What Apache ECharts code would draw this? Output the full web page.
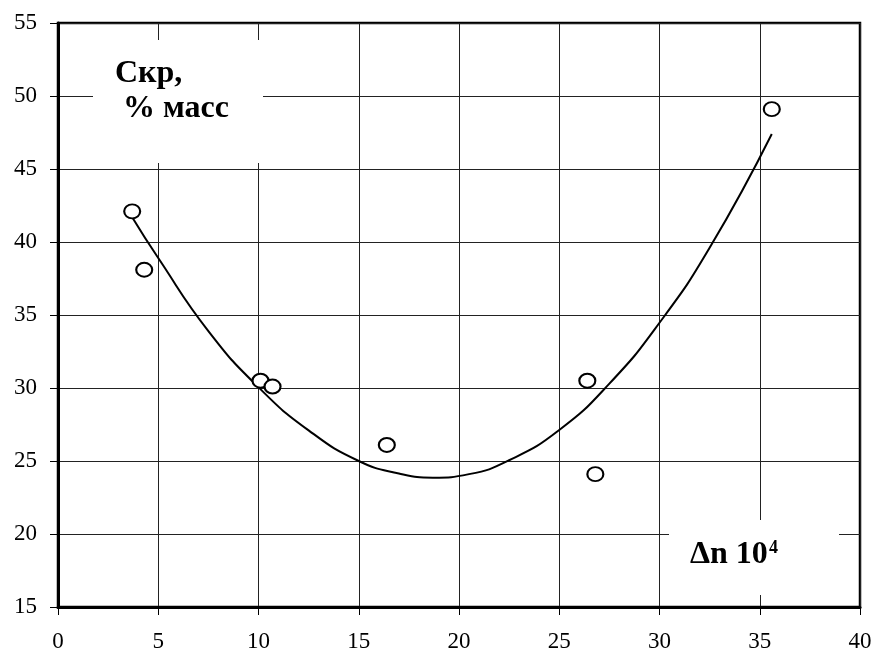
<!DOCTYPE html>
<html>
<head>
<meta charset="utf-8">
<script src="https://cdn.jsdelivr.net/npm/echarts@6/dist/echarts.min.js"></script>
<style>
html,body{margin:0;padding:0;background:#fff;}
#chart{width:873px;height:650px;}
</style>
</head>
<body>
<div id="chart"></div>
<script>
// Measured data points (Δn·10^4, Скр % масс)
const pointX = [3.7, 4.3, 10.1, 10.7, 16.4, 26.4, 26.8, 35.6];
const pointY = [42.1, 38.1, 30.5, 30.1, 26.1, 30.5, 24.1, 49.1];

// Trend curve, values
const curveX = [3.7, 5, 7.5, 10, 12.5, 15, 17, 18.7, 20.5, 22.5, 25, 27.5, 30, 32.5, 35.6];
const curveY = [41.7, 38.9, 33.9, 30.05, 27.1, 25.0, 24.15, 23.86, 24.1, 25.05, 27.12, 30.3, 34.47, 39.6, 47.4];

// Axis ranges
const xRange = [0, 40, 5];
const yRange = [15, 55, 5];

// Annotation texts
const yTitleLine1 = 'Скр,';
const yTitleLine2 = '% масс';
const xTitleMain = 'Δn 10';
const xTitleSup = '4';

const chart = echarts.init(document.getElementById('chart'));
const serif = '"Liberation Serif", "Times New Roman", serif';

chart.setOption({
  animation: false,
  backgroundColor: '#fff',
  grid: {
    left: 58, right: 13, top: 23, bottom: 43,
    containLabel: false, outerBoundsMode: 'none',
    show: true, borderColor: '#000', borderWidth: 2.5, backgroundColor: 'transparent'
  },
  xAxis: {
    type: 'value', min: xRange[0], max: xRange[1], interval: xRange[2],
    axisLine: { show: true, onZero: false, lineStyle: { color: '#000', width: 3 } },
    axisTick: { show: true, inside: false, length: 8, lineStyle: { color: '#000', width: 1 } },
    axisLabel: { color: '#000', fontFamily: serif, fontSize: 23, margin: 23 },
    splitLine: { show: true, lineStyle: { color: '#222', width: 1 } }
  },
  yAxis: {
    type: 'value', min: yRange[0], max: yRange[1], interval: yRange[2],
    axisLine: { show: true, onZero: false, lineStyle: { color: '#000', width: 3 } },
    axisTick: { show: true, inside: false, length: 8, lineStyle: { color: '#000', width: 1 } },
    axisLabel: { color: '#000', fontFamily: serif, fontSize: 23, margin: 21 },
    splitLine: { show: true, lineStyle: { color: '#222', width: 1 } }
  },
  graphic: [
    { type: 'rect', left: 93, top: 40, shape: { width: 170, height: 123 }, style: { fill: '#fff' }, z: 5 },
    { type: 'text', left: 115, top: 58, z: 6,
      style: { text: yTitleLine1, font: 'bold 32px ' + serif, fill: '#000' } },
    { type: 'text', left: 123, top: 93, z: 6,
      style: { text: yTitleLine2, font: 'bold 32px ' + serif, fill: '#000' } },
    { type: 'rect', left: 669, top: 520, shape: { width: 170, height: 75 }, style: { fill: '#fff' }, z: 5 },
    { type: 'text', left: 690, top: 539, z: 6,
      style: { text: xTitleMain, font: 'bold 32px ' + serif, fill: '#000' } },
    { type: 'text', left: 769, top: 539, z: 6,
      style: { text: xTitleSup, font: 'bold 18px ' + serif, fill: '#000' } }
  ],
  series: [
    {
      type: 'line', data: curveX.map((x, i) => [x, curveY[i]]),
      smooth: 0.5, showSymbol: false, symbol: 'none',
      lineStyle: { color: '#000', width: 2 }, z: 3
    },
    {
      type: 'scatter', data: pointX.map((x, i) => [x, pointY[i]]),
      symbol: 'circle', symbolSize: [16, 14],
      itemStyle: { color: '#fff', borderColor: '#000', borderWidth: 2, opacity: 1 },
      z: 4
    }
  ]
});
</script>
</body>
</html>
